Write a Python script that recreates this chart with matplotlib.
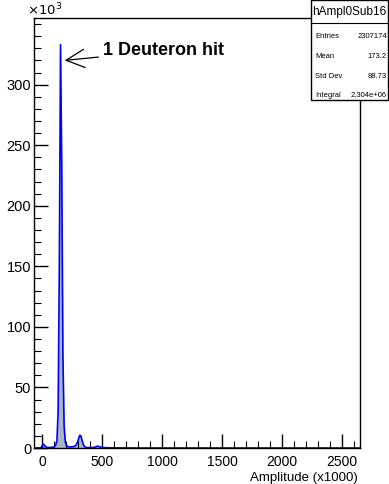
import matplotlib
matplotlib.use("Agg")
import matplotlib.pyplot as plt
from matplotlib.patches import Rectangle
from matplotlib.lines import Line2D
import numpy as np

plt.rcParams['font.family'] = ['Liberation Sans', 'DejaVu Sans']

# bin centres (amplitude / 1000) and counts (in units of 10^3)
amp = [-60, -15, -5, 5, 15, 25, 35, 45, 55, 65, 75, 85, 95, 105, 115, 125,
       135, 145, 155, 165, 175, 185, 195, 205, 215, 225, 235, 245, 255, 265,
       275, 285, 295, 305, 315, 325, 335, 345, 355, 365, 375, 395, 425, 445,
       455, 465, 475, 485, 495, 520, 560, 620, 700, 800, 2650]
counts = [0, 0.1, 0.5, 2.5, 3.0, 1.8, 0.8, 0.5, 0.4, 0.4, 0.5, 0.6, 0.8, 1.2,
          2.5, 6, 30, 150, 333, 235, 75, 18, 5, 2, 1.2, 1.0, 0.9, 0.9, 1.0,
          1.2, 1.6, 2.5, 4.5, 7.5, 10.5, 10.0, 6.0, 2.8, 1.2, 0.6, 0.4, 0.3,
          0.4, 0.8, 1.2, 1.5, 1.3, 0.8, 0.5, 0.3, 0.2, 0.1, 0.05, 0, 0]

stats_title = "hAmpl0Sub16"
stats_names = ["Entries", "Mean", "Std Dev", "Integral"]
stats_values = ["2307174", "173.2", "88.73", "2.304e+06"]

W, H = 389, 484
fig = plt.figure(figsize=(W / 100, H / 100), dpi=100)
ax = fig.add_axes([34 / W, 36 / H, (360 - 34) / W, (448 - 18) / H])

ax.fill_between(amp, counts, 0, color='#a9b7c4', lw=0)
ax.plot(amp, counts, color='#0000ff', lw=1.2)

ax.set_xlim(-66, 2650)
ax.set_ylim(0, 355)
ax.set_xticks([0, 500, 1000, 1500, 2000, 2500])
ax.set_xticks(np.arange(-0, 2650, 100), minor=True)
ax.set_yticks([0, 50, 100, 150, 200, 250, 300])
ax.set_yticks(np.arange(0, 355, 10), minor=True)
ax.tick_params(direction='in', which='major', length=10, width=1, labelsize=10.5,
               top=False, right=False)
ax.tick_params(axis='x', which='major', pad=5, labelsize=10)
ax.tick_params(axis='y', which='major', pad=2)
ax.tick_params(direction='in', which='minor', length=5, width=0.8,
               top=False, right=False)
for s in ax.spines.values():
    s.set_linewidth(1)

fig.text(27 / W, 1 - 18 / H, r"$\times10^{3}$", fontsize=9.5, ha='left', va='bottom')
fig.text(358 / W, 1 - 478 / H, "Amplitude (x1000)", fontsize=9.5, ha='right', va='center')

ax.annotate("1 Deuteron hit", xy=(190, 320), xytext=(505, 328),
            fontsize=13, fontweight='bold', va='center', ha='left',
            arrowprops=dict(arrowstyle='->,head_length=0.6,head_width=0.3',
                            color='black', lw=0.9,
                            mutation_scale=22, shrinkA=1, shrinkB=0))

# stats box
bx0, bx1, by0, by1 = 311, 388, 0, 100
fig.patches.append(Rectangle((bx0 / W, 1 - by1 / H), (bx1 - bx0) / W, (by1 - by0) / H,
                             transform=fig.transFigure, facecolor='white',
                             edgecolor='black', lw=1, zorder=5))
fig.lines.append(Line2D([bx0 / W, bx1 / W], [1 - 23 / H, 1 - 23 / H],
                        transform=fig.transFigure, color='black', lw=0.8, zorder=6))
fig.text((bx0 + bx1) / 2 / W, 1 - 12 / H, stats_title, fontsize=8.5,
         ha='center', va='center', zorder=7)
row_y = [37, 56, 76, 95]
for name, val, yy in zip(stats_names, stats_values, row_y):
    fig.text((bx0 + 4) / W, 1 - yy / H, name, fontsize=5.5, ha='left', va='center', zorder=7)
    fig.text((bx1 - 1) / W, 1 - yy / H, val, fontsize=5.5, ha='right', va='center', zorder=7)

fig.savefig("out.png", dpi=100)
